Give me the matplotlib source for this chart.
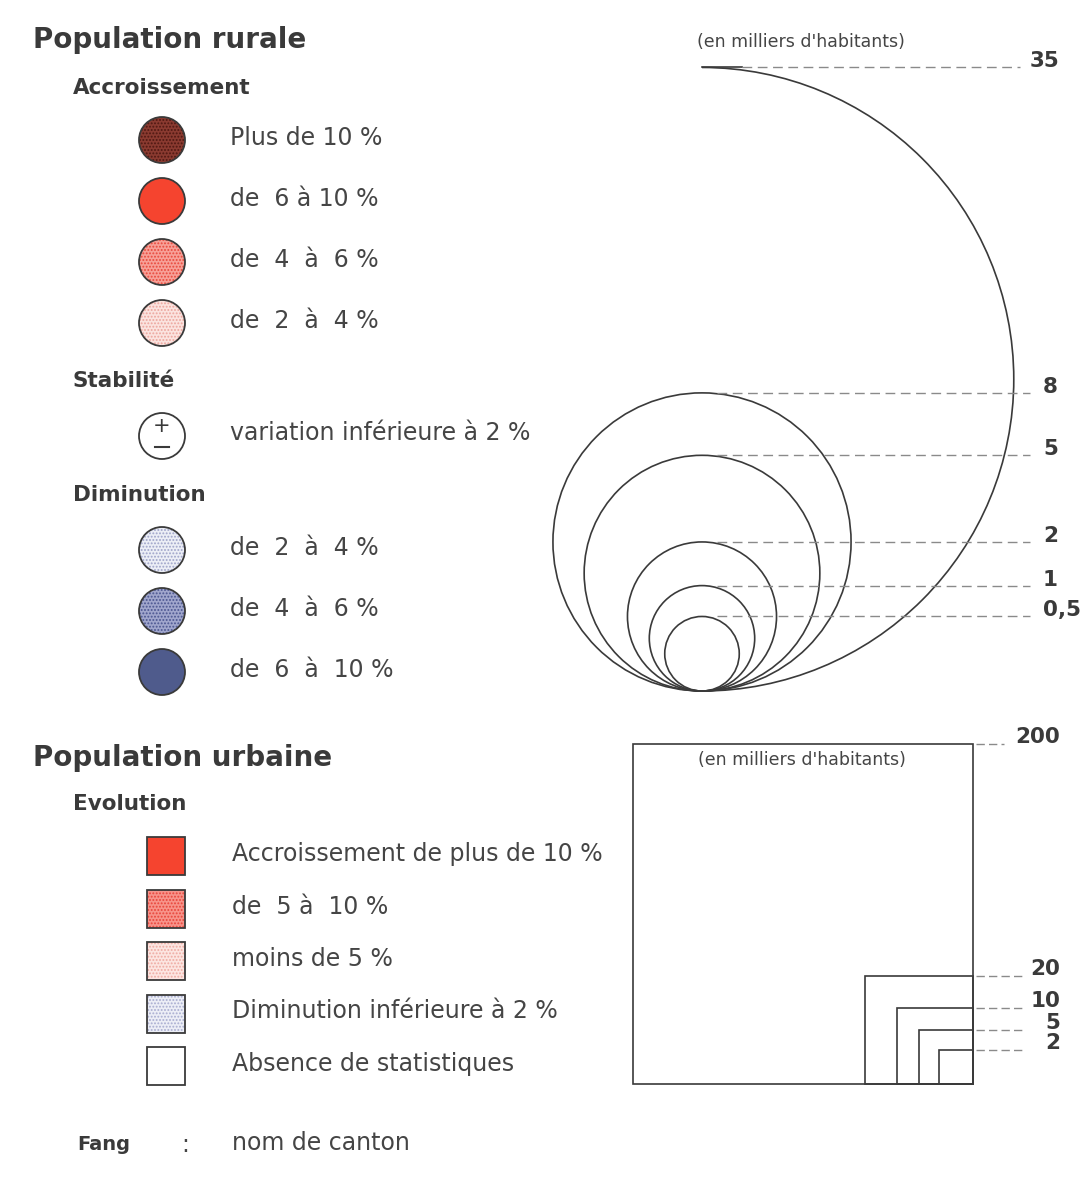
import matplotlib.pyplot as plt
import numpy as np
from matplotlib.patches import Circle, Rectangle, Arc

plt.rcParams['font.family'] = ['DejaVu Sans']
plt.rcParams['hatch.linewidth'] = 0.9

# legend classes
rural_up_labels = ['Plus de 10 %', 'de  6 à 10 %', 'de  4  à  6 %', 'de  2  à  4 %']
rural_up_fill = ['#8a3a30', '#f5442f', '#f7a097', '#fbe3df']
rural_up_dots = ['#4e1812', None, '#e8483b', '#eca59d']
rural_down_labels = ['de  2  à  4 %', 'de  4  à  6 %', 'de  6  à  10 %']
rural_down_fill = ['#eceef6', '#a0a6cc', '#4f5b8c']
rural_down_dots = ['#9ea3c9', '#4a5590', None]
urban_labels = ['Accroissement de plus de 10 %', 'de  5 à  10 %', 'moins de 5 %',
                'Diminution inférieure à 2 %', 'Absence de statistiques']
urban_fill = ['#f5442f', '#f7938a', '#fce5e1', '#eceef6', '#ffffff']
urban_dots = [None, '#e8443a', '#eeaaa2', '#a8acd0', None]

# size scales
rural_values = [35, 8, 5, 2, 1, 0.5]
rural_value_text = ['35', '8', '5', '2', '1', '0,5']
urban_values = [200, 20, 10, 5, 2]
urban_value_text = ['200', '20', '10', '5', '2']

ink = '#3a3a3a'
txt = '#454545'
lead = '#8a8a8a'

fig = plt.figure(figsize=(10.89, 11.88), dpi=100)
ax = fig.add_axes([0, 0, 1, 1])
ax.set_xlim(0, 1089)
ax.set_ylim(1188, 0)
ax.axis('off')


def symbol(shape, cx, cy, fill, dots):
    if shape == 'circle':
        mk = lambda **kw: Circle((cx, cy), 23, **kw)
    else:
        mk = lambda **kw: Rectangle((cx - 19, cy - 19), 38, 38, **kw)
    ax.add_patch(mk(facecolor=fill, edgecolor='none'))
    if dots:
        ax.add_patch(mk(facecolor='none', edgecolor=dots, hatch='.....', linewidth=0))
    ax.add_patch(mk(facecolor='none', edgecolor=ink, linewidth=1.3))


body = dict(fontsize=17, color=txt, va='center')
head = dict(fontsize=15.5, fontweight='bold', color=ink, va='center')
title = dict(fontsize=20, fontweight='bold', color=ink, va='center')

# ---- rural legend
ax.text(33, 40, 'Population rurale', **title)
ax.text(73, 88, 'Accroissement', **head)
for i, (lab, f, d) in enumerate(zip(rural_up_labels, rural_up_fill, rural_up_dots)):
    y = 140 + i * 61
    symbol('circle', 162, y, f, d)
    ax.text(230, y - 2, lab, **body)

ax.text(73, 381, 'Stabilité', **head)
ax.add_patch(Circle((162, 436), 23, facecolor='white', edgecolor=ink, linewidth=1.3))
ax.text(162, 426, '+', fontsize=15, color=ink, ha='center', va='center')
ax.plot([155, 169], [447, 447], color=ink, lw=1.5)
ax.text(230, 433, 'variation inférieure à 2 %', **body)

ax.text(73, 495, 'Diminution', **head)
for i, (lab, f, d) in enumerate(zip(rural_down_labels, rural_down_fill, rural_down_dots)):
    y = 550 + i * 61
    symbol('circle', 162, y, f, d)
    ax.text(230, y - 2, lab, **body)

# ---- rural size scale (nested circles tangent at the bottom)
cx, base = 702, 691
k_circ = 52.7
for v, t in zip(rural_values, rural_value_text):
    r = k_circ * np.sqrt(v)
    top = base - 2 * r
    if v == max(rural_values):
        ax.add_patch(Arc((cx, base - r), 2 * r, 2 * r, theta1=-90, theta2=90, color=ink, lw=1.2))
        ax.plot([cx, cx + 40], [top, top], color=ink, lw=1.2)
        ax.plot([cx + 40, 1020], [top, top], color=lead, lw=1, dashes=(7, 4))
    else:
        ax.add_patch(Circle((cx, base - r), r, facecolor='none', edgecolor=ink, lw=1.2))
        ax.plot([cx + 15, 1030], [top, top], color=lead, lw=1, dashes=(7, 4))
    tx = 1030 if len(t) == 2 else 1043
    ax.text(tx, top - 6, t, fontsize=15.5, fontweight='bold', color=ink, va='center')
ax.text(801, 42, "(en milliers d'habitants)", fontsize=12.5, color=txt, ha='center', va='center')

# ---- urban legend
ax.text(33, 758, 'Population urbaine', **title)
ax.text(73, 804, 'Evolution', **head)
for i, (lab, f, d) in enumerate(zip(urban_labels, urban_fill, urban_dots)):
    y = 856 + i * 52.5
    symbol('square', 166, y, f, d)
    ax.text(232, y - 2, lab, **body)

# ---- urban size scale (nested squares anchored bottom-right)
rx, by = 973, 1084
k_sq = 340 / np.sqrt(200)
for v, t in zip(urban_values, urban_value_text):
    s = k_sq * np.sqrt(v)
    top = by - s
    ax.add_patch(Rectangle((rx - s, top), s, s, facecolor='none', edgecolor=ink, lw=1.2))
    x_end = 1004 if len(t) == 3 else 1024
    ax.plot([rx + 3, x_end], [top, top], color=lead, lw=1, dashes=(6, 3))
    ax.text(1060, top - 7, t, fontsize=15.5, fontweight='bold', color=ink, ha='right', va='center')
ax.text(802, 760, "(en milliers d'habitants)", fontsize=12.5, color=txt, ha='center', va='center')

# ---- canton name
ax.text(77, 1145, 'Fang', fontsize=14, fontweight='bold', color=ink, va='center')
ax.text(185, 1145, ':', fontsize=17, color=txt, ha='center', va='center')
ax.text(232, 1143, 'nom de canton', **body)

fig.savefig('out.png', dpi=100)
